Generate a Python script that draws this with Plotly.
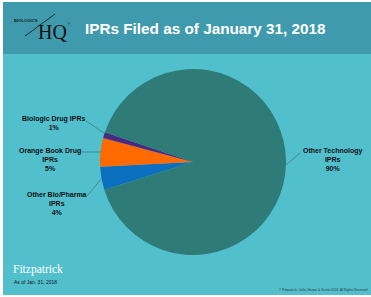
import plotly.graph_objects as go

W, H = 371, 297

categories = ["Other Bio/Pharma IPRs", "Orange Book Drug IPRs", "Biologic Drug IPRs", "Other Technology IPRs"]
values = [4, 5, 1, 90]
colors = ["#0b6fbf", "#ff6a00", "#4a2a80", "#2e7b78"]
label_texts = ["Other Bio/Pharma<br>IPRs<br>4%", "Orange Book Drug<br>IPRs<br>5%",
               "Biologic Drug IPRs<br>1%", "Other Technology<br>IPRs<br>90%"]


def px(x):
    return x / W


def py(y):
    return 1 - y / H


cx, cy, r = 193, 162, 93

fig = go.Figure()
fig.add_trace(go.Pie(
    labels=categories, values=values, sort=False, direction="clockwise",
    rotation=-107.4, textinfo="none", hoverinfo="label+percent",
    marker=dict(colors=colors, line=dict(width=0)),
    domain=dict(x=[px(cx - r), px(cx + r)], y=[py(cy + r), py(cy - r)]),
    showlegend=False,
))

shapes = [
    dict(type="rect", xref="paper", yref="paper", x0=px(3), x1=1, y0=py(295), y1=py(54),
         fillcolor="#52bfcd", line=dict(width=0), layer="below"),
    dict(type="rect", xref="paper", yref="paper", x0=px(3), x1=1, y0=py(54), y1=py(2),
         fillcolor="#3f9aae", line=dict(width=0), layer="below"),
    # logo slash
    dict(type="line", xref="paper", yref="paper", x0=px(25), y0=py(36), x1=px(55), y1=py(14),
         line=dict(color="#111111", width=0.8)),
]
lc = dict(color="#3f7f8a", width=0.8)
leaders = [((87, 196), (102, 178)), ((81, 152), (101, 152)), ((86, 121), (104, 133)), ((300, 153), (286, 165))]
for (a, b) in leaders:
    shapes.append(dict(type="line", xref="paper", yref="paper", x0=px(a[0]), y0=py(a[1]),
                       x1=px(b[0]), y1=py(b[1]), line=lc))

lab_font = dict(family="Liberation Sans, Arial", size=7, color="#111111")
label_pos = [(57, 203), (50, 159), (54, 123), (332, 159)]
annotations = []
for t, (x, y) in zip(label_texts, label_pos):
    annotations.append(dict(text="<b>" + t + "</b>", x=px(x), y=py(y), xref="paper", yref="paper",
                            showarrow=False, font=lab_font, align="center",
                            xanchor="center", yanchor="middle"))

annotations += [
    dict(text="<b>IPRs Filed as of January 31, 2018</b>", x=px(83), y=py(28), xref="paper", yref="paper",
         showarrow=False, xanchor="left", yanchor="middle",
         font=dict(family="Liberation Sans, Arial", size=15.3, color="white")),
    dict(text="<b>BIOLOGICS</b>", x=px(12), y=py(20), xref="paper", yref="paper", showarrow=False,
         xanchor="left", yanchor="middle", font=dict(family="Liberation Sans, Arial", size=4.2, color="#222222")),
    dict(text="HQ", x=px(36), y=py(32), xref="paper", yref="paper", showarrow=False,
         xanchor="left", yanchor="middle", font=dict(family="Liberation Serif, Times New Roman", size=20, color="#111111")),
    dict(text="®", x=px(66), y=py(24), xref="paper", yref="paper", showarrow=False,
         xanchor="left", yanchor="middle", font=dict(family="Liberation Sans", size=3, color="#111111")),
    dict(text="Fitzpatrick", x=px(11), y=py(269), xref="paper", yref="paper", showarrow=False,
         xanchor="left", yanchor="middle", font=dict(family="Liberation Serif, Times New Roman", size=11.5, color="white")),
    dict(text="As of Jan. 31, 2018", x=px(12), y=py(282), xref="paper", yref="paper", showarrow=False,
         xanchor="left", yanchor="middle", font=dict(family="Liberation Sans, Arial", size=5, color="#111111")),
    dict(text="© Fitzpatrick, Cella, Harper & Scinto 2018. All Rights Reserved", x=px(370), y=py(290),
         xref="paper", yref="paper", showarrow=False, xanchor="right", yanchor="middle",
         font=dict(family="Liberation Sans, Arial", size=3.2, color="#333333")),
]

fig.update_layout(
    width=W, height=H, margin=dict(l=0, r=0, t=0, b=0),
    paper_bgcolor="white", plot_bgcolor="white",
    shapes=shapes, annotations=annotations,
)

fig.write_html("out.html", config={"displayModeBar": False},
               post_script="document.body.style.margin='0';document.body.style.overflow='hidden';")
